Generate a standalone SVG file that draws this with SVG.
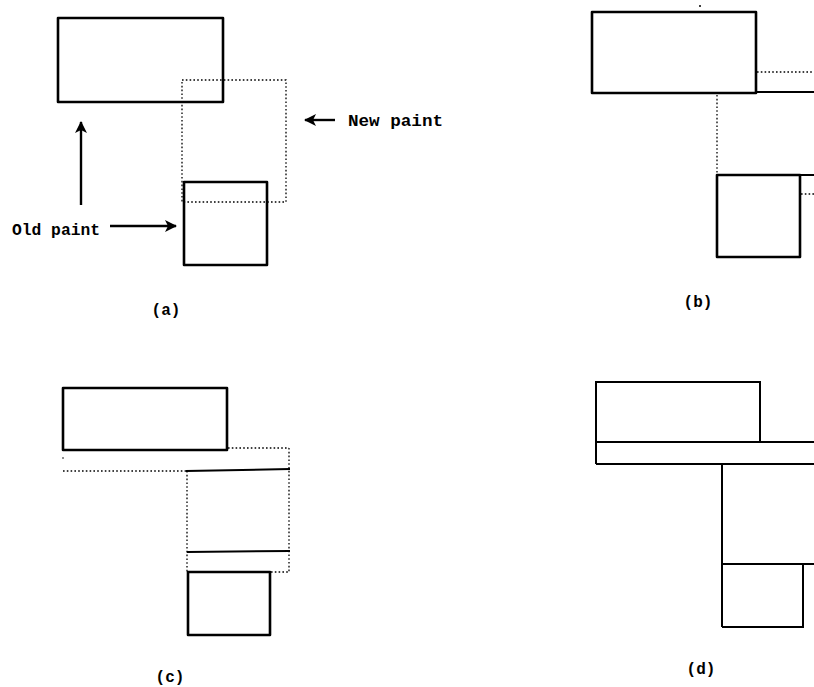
<svg xmlns="http://www.w3.org/2000/svg" width="814" height="687" viewBox="0 0 814 687">
<style>
.box{fill:none;stroke:#000;stroke-width:2.6;stroke-linejoin:round}
.thin{fill:none;stroke:#000;stroke-width:2}
.dot{fill:none;stroke:#000;stroke-width:1.3;stroke-dasharray:1.6 2.2}
.lbl{font-family:"Liberation Mono","DejaVu Sans Mono",monospace;font-weight:bold;font-size:16px;fill:#000}
.arr{stroke:#000;stroke-width:2.4;fill:none}
</style>
<defs>
<marker id="ah" viewBox="0 0 12 12" refX="11" refY="6" markerWidth="12" markerHeight="12" markerUnits="userSpaceOnUse" orient="auto">
<path d="M0,0 L12,6 L0,12 L3,6 Z" fill="#000"/>
</marker>
</defs>
<rect width="814" height="687" fill="#fff"/>

<g id="panel-a">
  <g id="a-old-top"><rect class="box" x="58" y="18" width="165" height="84"/></g>
  <g id="a-new"><rect class="dot" x="182" y="80" width="104" height="122"/></g>
  <g id="a-old-bottom"><rect class="box" x="184" y="182" width="83" height="83"/></g>
  <g id="a-label-new"><text class="lbl" x="348" y="126" textLength="95" lengthAdjust="spacingAndGlyphs">New paint</text></g>
  <g id="a-label-old"><text class="lbl" x="12" y="235" textLength="88" lengthAdjust="spacingAndGlyphs">Old paint</text></g>
  <text class="lbl" x="166" y="315" text-anchor="middle">(a)</text>
</g>

<g id="panel-b">
  <g id="b-top"><rect class="box" x="592" y="12" width="164" height="81"/></g>
  <circle cx="700" cy="6" r="1" fill="#000"/>
  <line class="dot" x1="757" y1="72" x2="814" y2="72"/>
  <line class="thin" x1="756" y1="92" x2="814" y2="92"/>
  <line class="dot" x1="717" y1="95" x2="717" y2="174"/>
  <g id="b-bottom"><rect class="box" x="717" y="175" width="83" height="82"/></g>
  <line class="thin" x1="800" y1="175" x2="814" y2="175"/>
  <line class="dot" x1="801" y1="194" x2="814" y2="194"/>
  <text class="lbl" x="698" y="307" text-anchor="middle">(b)</text>
</g>

<g id="panel-c">
  <g id="c-top"><rect class="box" x="63" y="388" width="164" height="62"/></g>
  <line class="dot" x1="228" y1="448" x2="289" y2="448"/>
  <line class="dot" x1="289" y1="448" x2="289" y2="572"/>
  <circle cx="63" cy="458" r="0.8" fill="#000"/>
  <line class="dot" x1="63" y1="471" x2="186" y2="471"/>
  <line class="thin" x1="186" y1="471" x2="290" y2="469"/>
  <line class="dot" x1="187" y1="471" x2="187" y2="572"/>
  <line class="thin" x1="187" y1="552" x2="290" y2="551"/>
  <line class="dot" x1="271" y1="572" x2="289" y2="572"/>
  <g id="c-bottom"><rect class="box" x="188" y="572" width="82" height="63"/></g>
  <text class="lbl" x="170" y="682" text-anchor="middle">(c)</text>
</g>

<g id="panel-d">
  <g id="d-top"><path class="thin" d="M596,464 L596,382 L760,382 L760,442"/></g>
  <line class="thin" x1="596" y1="442" x2="814" y2="442"/>
  <line class="thin" x1="596" y1="464" x2="814" y2="464"/>
  <line class="thin" x1="722" y1="464" x2="722" y2="627"/>
  <line class="thin" x1="722" y1="564" x2="814" y2="564"/>
  <g id="d-bottom"><path class="thin" d="M722,627 L803,627 L803,564"/></g>
  <text class="lbl" x="701" y="674" text-anchor="middle">(d)</text>
</g>

<g id="connectors">
  <line class="arr" x1="81" y1="205" x2="81" y2="122" marker-end="url(#ah)"/>
  <line class="arr" x1="110" y1="226" x2="176" y2="226" marker-end="url(#ah)"/>
  <line class="arr" x1="335" y1="120" x2="305" y2="120" marker-end="url(#ah)"/>
</g>
</svg>
